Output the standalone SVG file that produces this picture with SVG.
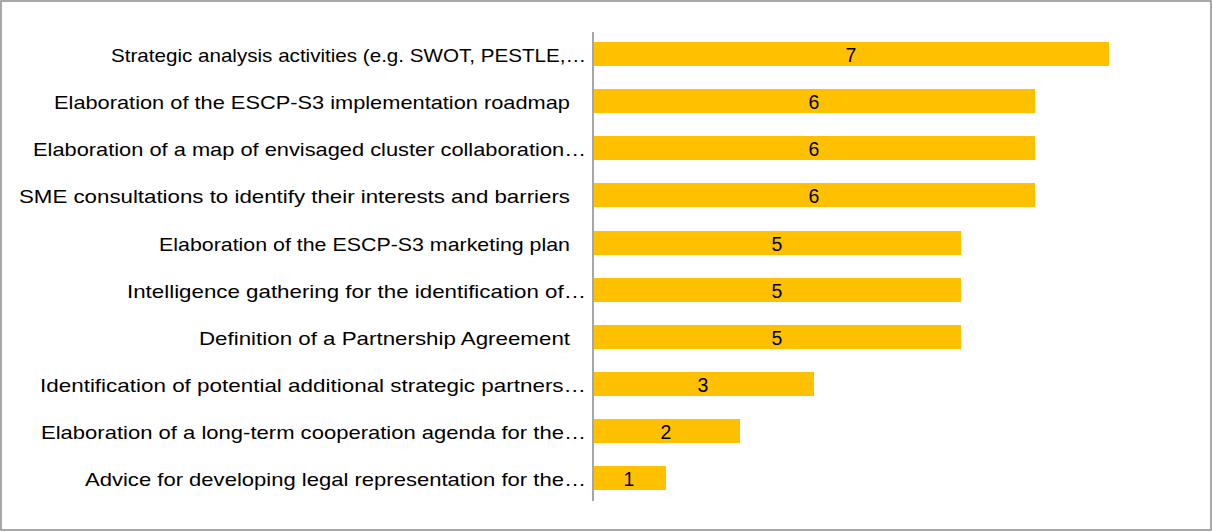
<svg xmlns="http://www.w3.org/2000/svg" width="1212" height="532" viewBox="0 0 1212 532">
<style>
.lbl{font-family:"Liberation Sans","Open Sans",sans-serif;font-size:19px;fill:#000;text-anchor:end}
.val{font-family:"Liberation Sans","Open Sans",sans-serif;font-size:19.5px;fill:#000;text-anchor:middle}
.bar{fill:#FFC000}
</style>
<rect x="1" y="1" width="1210" height="529" fill="#fff" stroke="#8c8c8c" stroke-width="1.5"/>
<g id="bars">
<g id="n1"><rect class="bar" x="593" y="42" width="516" height="24"/><text class="val" x="851" y="61.5">7</text><text class="lbl" x="586" y="61.5" textLength="475" lengthAdjust="spacingAndGlyphs">Strategic analysis activities (e.g. SWOT, PESTLE,…</text></g>
<g id="n2"><rect class="bar" x="593" y="89" width="442" height="24"/><text class="val" x="814" y="108.5">6</text><text class="lbl" x="570" y="108.5" textLength="516" lengthAdjust="spacingAndGlyphs">Elaboration of the ESCP-S3 implementation roadmap</text></g>
<g id="n3"><rect class="bar" x="593" y="136" width="442" height="24"/><text class="val" x="814" y="155.5">6</text><text class="lbl" x="586" y="155.5" textLength="553" lengthAdjust="spacingAndGlyphs">Elaboration of a map of envisaged cluster collaboration…</text></g>
<g id="n4"><rect class="bar" x="593" y="183" width="442" height="24"/><text class="val" x="814" y="202.5">6</text><text class="lbl" x="570" y="202.5" textLength="551" lengthAdjust="spacingAndGlyphs">SME consultations to identify their interests and barriers</text></g>
<g id="n5"><rect class="bar" x="593" y="231" width="368" height="24"/><text class="val" x="777" y="250.5">5</text><text class="lbl" x="570" y="250.5" textLength="411" lengthAdjust="spacingAndGlyphs">Elaboration of the ESCP-S3 marketing plan</text></g>
<g id="n6"><rect class="bar" x="593" y="278" width="368" height="24"/><text class="val" x="777" y="297.5">5</text><text class="lbl" x="586" y="297.5" textLength="459" lengthAdjust="spacingAndGlyphs">Intelligence gathering for the identification of…</text></g>
<g id="n7"><rect class="bar" x="593" y="325" width="368" height="24"/><text class="val" x="777" y="344.5">5</text><text class="lbl" x="570" y="344.5" textLength="371" lengthAdjust="spacingAndGlyphs">Definition of a Partnership Agreement</text></g>
<g id="n8"><rect class="bar" x="593" y="372" width="221" height="24"/><text class="val" x="703" y="391.5">3</text><text class="lbl" x="586" y="391.5" textLength="546" lengthAdjust="spacingAndGlyphs">Identification of potential additional strategic partners…</text></g>
<g id="n9"><rect class="bar" x="593" y="419" width="147" height="24"/><text class="val" x="666" y="438.5">2</text><text class="lbl" x="586" y="438.5" textLength="545" lengthAdjust="spacingAndGlyphs">Elaboration of a long-term cooperation agenda for the…</text></g>
<g id="n10"><rect class="bar" x="593" y="466" width="73" height="24"/><text class="val" x="629" y="485.5">1</text><text class="lbl" x="586" y="485.5" textLength="501" lengthAdjust="spacingAndGlyphs">Advice for developing legal representation for the…</text></g>
</g>
<g id="axis"><line x1="593" y1="32" x2="593" y2="501" stroke="#a6a6a6" stroke-width="2"/></g>
</svg>
